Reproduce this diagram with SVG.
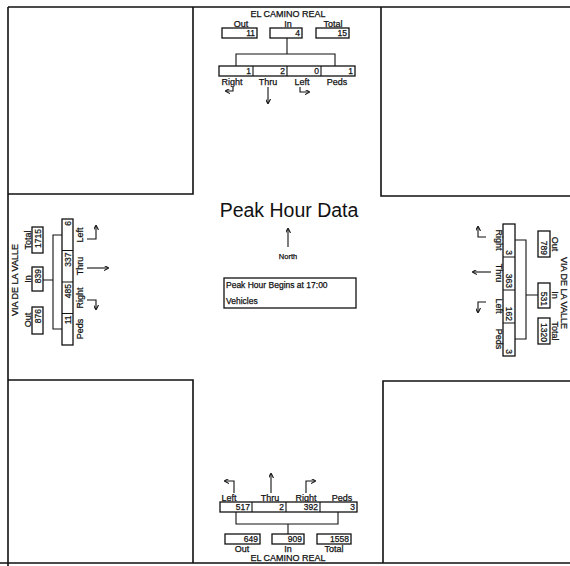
<svg xmlns="http://www.w3.org/2000/svg" width="570" height="566" viewBox="0 0 570 566">
<defs>
<style>
text{font-family:"Liberation Sans",Arial,sans-serif;fill:#111;stroke:#111;stroke-width:0.25}
.t{font-size:9px}
.v{font-size:8.5px}
.ln{fill:none;stroke:#111;stroke-width:1.6}
.bx{fill:#fff;stroke:#111;stroke-width:1.3}
.ar{fill:none;stroke:#111;stroke-width:1.1}
</style>
<marker id="ah" markerWidth="5" markerHeight="5" refX="4" refY="2.5" orient="auto" markerUnits="userSpaceOnUse">
<path d="M0,0 L5,2.5 L0,5" fill="none" stroke="#111" stroke-width="1.1"/>
</marker>
</defs>
<rect width="570" height="566" fill="#fff"/>
<g id="streets">
<path class="ln" d="M8 7 H570 M8 7 V566 M0 563 H570"/>
<path class="ln" d="M193 7 V194 H8"/>
<path class="ln" d="M381 7 V196 H570"/>
<path class="ln" d="M8 380 H193 V563"/>
<path class="ln" d="M570 381 H383 V563"/>
</g>
<g id="north">
<text class="t" x="288" y="17" text-anchor="middle">EL CAMINO REAL</text>
<text class="t" x="241" y="27" text-anchor="middle">Out</text>
<text class="t" x="288" y="27" text-anchor="middle">In</text>
<text class="t" x="333" y="27" text-anchor="middle">Total</text>
<rect class="bx" x="222" y="28" width="35" height="10"/>
<rect class="bx" x="270" y="28" width="32" height="10"/>
<rect class="bx" x="316" y="28" width="33" height="10"/>
<text class="v" x="255" y="36" text-anchor="end">11</text>
<text class="v" x="300" y="36" text-anchor="end">4</text>
<text class="v" x="347" y="36" text-anchor="end">15</text>
<rect class="bx" x="219" y="66" width="136" height="10"/>
<path class="ar" d="M253 66 V76 M287 66 V76 M321 66 V76"/>
<text class="v" x="251" y="74" text-anchor="end">1</text>
<text class="v" x="285" y="74" text-anchor="end">2</text>
<text class="v" x="319" y="74" text-anchor="end">0</text>
<text class="v" x="353" y="74" text-anchor="end">1</text>
<text class="t" x="232" y="85" text-anchor="middle">Right</text>
<text class="t" x="268" y="85" text-anchor="middle">Thru</text>
<text class="t" x="302" y="85" text-anchor="middle">Left</text>
<text class="t" x="337" y="85" text-anchor="middle">Peds</text>
</g>
<g id="south">
<text class="t" x="229" y="501" text-anchor="middle">Left</text>
<text class="t" x="270" y="501" text-anchor="middle">Thru</text>
<text class="t" x="306" y="501" text-anchor="middle">Right</text>
<text class="t" x="342" y="501" text-anchor="middle">Peds</text>
<rect class="bx" x="220" y="502" width="137" height="10"/>
<path class="ar" d="M252 502 V512 M286 502 V512 M320 502 V512"/>
<text class="v" x="250" y="510" text-anchor="end">517</text>
<text class="v" x="284" y="510" text-anchor="end">2</text>
<text class="v" x="318" y="510" text-anchor="end">392</text>
<text class="v" x="355" y="510" text-anchor="end">3</text>
<rect class="bx" x="225" y="534" width="35" height="10"/>
<rect class="bx" x="272" y="534" width="32" height="10"/>
<rect class="bx" x="317" y="534" width="34" height="10"/>
<text class="v" x="258" y="542" text-anchor="end">649</text>
<text class="v" x="302" y="542" text-anchor="end">909</text>
<text class="v" x="349" y="542" text-anchor="end">1558</text>
<text class="t" x="242" y="552" text-anchor="middle">Out</text>
<text class="t" x="288" y="552" text-anchor="middle">In</text>
<text class="t" x="334" y="552" text-anchor="middle">Total</text>
<text class="t" x="288" y="561" text-anchor="middle">EL CAMINO REAL</text>
</g>
<g id="west">
<text class="t" transform="rotate(-90 18 280)" x="18" y="280" text-anchor="middle">VIA DE LA VALLE</text>
<text class="t" transform="rotate(-90 31 240)" x="31" y="240" text-anchor="middle">Total</text>
<text class="t" transform="rotate(-90 31 279)" x="31" y="279" text-anchor="middle">In</text>
<text class="t" transform="rotate(-90 31 320)" x="31" y="320" text-anchor="middle">Out</text>
<rect class="bx" x="32" y="227" width="11" height="26"/>
<rect class="bx" x="32" y="267" width="11" height="24"/>
<rect class="bx" x="32" y="307" width="11" height="27"/>
<text class="v" transform="rotate(-90 41 229)" x="41" y="229" text-anchor="end">1715</text>
<text class="v" transform="rotate(-90 41 269)" x="41" y="269" text-anchor="end">839</text>
<text class="v" transform="rotate(-90 41 309)" x="41" y="309" text-anchor="end">876</text>
<rect class="bx" x="62" y="219" width="11" height="126"/>
<path class="ar" d="M62 250.5 H73 M62 282 H73 M62 313.5 H73"/>
<text class="v" transform="rotate(-90 71 221)" x="71" y="221" text-anchor="end">6</text>
<text class="v" transform="rotate(-90 71 252.5)" x="71" y="252.5" text-anchor="end">337</text>
<text class="v" transform="rotate(-90 71 284)" x="71" y="284" text-anchor="end">485</text>
<text class="v" transform="rotate(-90 71 315.5)" x="71" y="315.5" text-anchor="end">11</text>
<text class="t" transform="rotate(-90 83 235)" x="83" y="235" text-anchor="middle">Left</text>
<text class="t" transform="rotate(-90 83 266)" x="83" y="266" text-anchor="middle">Thru</text>
<text class="t" transform="rotate(-90 83 298)" x="83" y="298" text-anchor="middle">Right</text>
<text class="t" transform="rotate(-90 83 329)" x="83" y="329" text-anchor="middle">Peds</text>
</g>
<g id="east">
<text class="t" transform="rotate(90 561 293)" x="561" y="293" text-anchor="middle">VIA DE LA VALLE</text>
<text class="t" transform="rotate(90 552 244)" x="552" y="244" text-anchor="middle">Out</text>
<text class="t" transform="rotate(90 552 295)" x="552" y="295" text-anchor="middle">In</text>
<text class="t" transform="rotate(90 552 331)" x="552" y="331" text-anchor="middle">Total</text>
<rect class="bx" x="538" y="231" width="12" height="26"/>
<rect class="bx" x="538" y="283" width="12" height="25"/>
<rect class="bx" x="538" y="318" width="12" height="26"/>
<text class="v" transform="rotate(90 541 255)" x="541" y="255" text-anchor="end">789</text>
<text class="v" transform="rotate(90 541 306)" x="541" y="306" text-anchor="end">531</text>
<text class="v" transform="rotate(90 541 342)" x="541" y="342" text-anchor="end">1320</text>
<rect class="bx" x="503" y="224" width="12" height="132"/>
<path class="ar" d="M503 257 H515 M503 290 H515 M503 323 H515"/>
<text class="v" transform="rotate(90 506 255)" x="506" y="255" text-anchor="end">3</text>
<text class="v" transform="rotate(90 506 288)" x="506" y="288" text-anchor="end">363</text>
<text class="v" transform="rotate(90 506 321)" x="506" y="321" text-anchor="end">162</text>
<text class="v" transform="rotate(90 506 354)" x="506" y="354" text-anchor="end">3</text>
<text class="t" transform="rotate(90 496 240)" x="496" y="240" text-anchor="middle">Right</text>
<text class="t" transform="rotate(90 496 273)" x="496" y="273" text-anchor="middle">Thru</text>
<text class="t" transform="rotate(90 496 306)" x="496" y="306" text-anchor="middle">Left</text>
<text class="t" transform="rotate(90 496 339)" x="496" y="339" text-anchor="middle">Peds</text>
</g>
<g id="center">
<text x="289" y="217" text-anchor="middle" style="font-size:19.5px;stroke:none">Peak Hour Data</text>
<text x="288" y="259" text-anchor="middle" style="font-size:7.5px">North</text>
<rect class="bx" x="224" y="278" width="132" height="30"/>
<text class="v" x="226" y="288">Peak Hour Begins at 17:00</text>
<text class="v" x="226" y="304">Vehicles</text>
</g>
<g id="connectors">
<path class="ar" d="M287 38 V54 M236 66 V54 H335 V66"/>
<path class="ar" d="M233 87 V91 H226" marker-end="url(#ah)"/>
<path class="ar" d="M268 87 V103" marker-end="url(#ah)"/>
<path class="ar" d="M300 87 V92 H309" marker-end="url(#ah)"/>
<path class="ar" d="M236 512 V524 H338 V512 M288 524 V534"/>
<path class="ar" d="M234 493 V481 H225" marker-end="url(#ah)"/>
<path class="ar" d="M271 493 V474" marker-end="url(#ah)"/>
<path class="ar" d="M306 493 V481 H315" marker-end="url(#ah)"/>
<path class="ar" d="M43 280 H53 M62 235 H53 V329 H62"/>
<path class="ar" d="M87 239 H96 V226" marker-end="url(#ah)"/>
<path class="ar" d="M87 268 H108" marker-end="url(#ah)"/>
<path class="ar" d="M87 300 H96 V309" marker-end="url(#ah)"/>
<path class="ar" d="M538 295 H526 M515 240 H526 V339 H515"/>
<path class="ar" d="M486 237 H478 V227" marker-end="url(#ah)"/>
<path class="ar" d="M491 272 H473" marker-end="url(#ah)"/>
<path class="ar" d="M486 302 H478 V312" marker-end="url(#ah)"/>
<path class="ar" d="M288 247 V229" marker-end="url(#ah)"/>
</g>
</svg>
